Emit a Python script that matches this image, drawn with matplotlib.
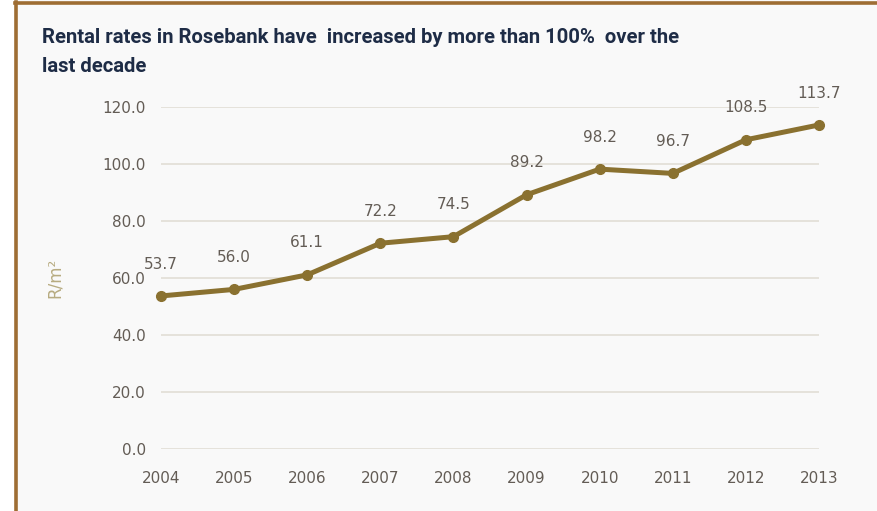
import matplotlib
matplotlib.use("Agg")
import matplotlib.pyplot as plt
from matplotlib.patches import Rectangle

years = [2004, 2005, 2006, 2007, 2008, 2009, 2010, 2011, 2012, 2013]
rates = [53.7, 56.0, 61.1, 72.2, 74.5, 89.2, 98.2, 96.7, 108.5, 113.7]
y_ticks = [0, 20, 40, 60, 80, 100, 120]

title_lines = ["Rental rates in Rosebank have  increased by more than 100%  over the",
               "last decade"]
line_color = "#8a7130"
text_color = "#635c55"
font = "DejaVu Sans"

W, H = 878, 511
fig = plt.figure(figsize=(W / 100, H / 100), dpi=100)
fig.patch.set_facecolor("#f9f9f9")

# біла смуга зліва та коричнева рамка
fig.add_artist(Rectangle((0, 0), 15 / W, 1, transform=fig.transFigure,
                         facecolor="white", edgecolor="none"))
fig.add_artist(plt.Line2D([16.5 / W, 16.5 / W], [0, 1 - 2 / H], transform=fig.transFigure,
                          color="#9e6d33", lw=2.6))
fig.add_artist(plt.Line2D([15 / W, 1], [1 - 3.5 / H, 1 - 3.5 / H], transform=fig.transFigure,
                          color="#9e6d33", lw=2.6))

ax = fig.add_axes([161 / W, 1 - 449 / H, (819 - 161) / W, (449 - 107) / H])
ax.set_facecolor("none")
ax.set_zorder(3)

ax.plot(years, rates, color=line_color, lw=3.6, marker="o", markersize=7,
        solid_capstyle="round", zorder=3, clip_on=False)
for x, y in zip(years, rates):
    ax.annotate(f"{y:.1f}", (x, y), xytext=(0, 23), textcoords="offset points",
                ha="center", va="center", fontsize=11, color=text_color, family=font)

ax.set_xlim(2004, 2013)
ax.set_ylim(0, 120)
ax.set_yticks(y_ticks)
ax.set_yticklabels([f"{t:.1f}" for t in y_ticks])
ax.set_xticks(years)
ax.set_xticklabels([str(y) for y in years])
ax.grid(axis="y", color="#e2ded6", lw=1.2)
ax.grid(axis="x", visible=False)
ax.set_axisbelow(True)
for s in ax.spines.values():
    s.set_visible(False)
ax.tick_params(length=0, labelsize=11, labelcolor=text_color)
ax.tick_params(axis="y", pad=11)
ax.tick_params(axis="x", pad=16)

ax.set_ylabel("R/m²", color="#b7ab80", fontsize=12, labelpad=28, family=font)

# заголовок у два рядки
for baseline, line in zip([43, 72], title_lines):
    fig.text(42 / W, 1 - baseline / H, line, ha="left", va="baseline",
             fontsize=14.6, fontweight="bold", color="#1e2c46", family="Roboto")

fig.savefig("out.png", dpi=100, facecolor=fig.get_facecolor())
